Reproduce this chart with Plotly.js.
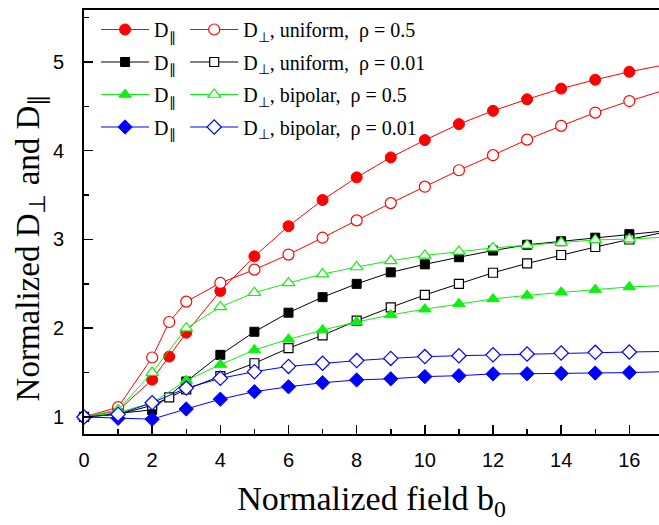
<!DOCTYPE html>
<html>
<head>
<meta charset="utf-8">
<script src="https://cdn.plot.ly/plotly-3.0.1.min.js"></script>
<style>html,body{margin:0;padding:0;background:#fff;}#chart{width:659px;height:525px;}</style>
</head>
<body>
<div id="chart"></div>
<script>
// Normalized field b0
const b0 = [0,1,2,3,4,5,6,7,8,9,10,11,12,13,14,15,16,17];
const b0Fine = [0,1,2,2.5,3,4,5,6,7,8,9,10,11,12,13,14,15,16,17];

// uniform, rho = 0.5
const parUniform05 = [1.00,1.07,1.42,1.68,1.95,2.42,2.81,3.15,3.445,3.70,3.925,4.12,4.30,4.45,4.58,4.70,4.80,4.89,4.965];
const perpUniform05 = [1.00,1.11,1.67,2.07,2.30,2.51,2.66,2.83,3.02,3.215,3.41,3.595,3.78,3.95,4.125,4.28,4.43,4.56,4.68];
// uniform, rho = 0.01
const parUniform001 = [1.00,1.04,1.08,1.40,1.70,1.96,2.175,2.35,2.50,2.63,2.72,2.80,2.875,2.94,2.98,3.02,3.06,3.095];
const perpUniform001 = [1.00,1.03,1.13,1.22,1.31,1.46,1.605,1.775,1.92,2.085,2.235,2.375,2.50,2.625,2.73,2.825,2.915,3.00,3.08];
// bipolar, rho = 0.5
const parBipolar05 = [1.00,1.05,1.16,1.41,1.59,1.755,1.875,1.98,2.07,2.15,2.215,2.275,2.33,2.37,2.405,2.435,2.465,2.48];
const perpBipolar05 = [1.00,1.08,1.50,2.00,2.24,2.40,2.51,2.61,2.69,2.76,2.82,2.865,2.905,2.935,2.965,2.995,3.005,3.025];
// bipolar, rho = 0.01
const parBipolar001 = [1.00,0.985,0.975,1.09,1.20,1.285,1.34,1.386,1.417,1.43,1.455,1.465,1.485,1.487,1.49,1.495,1.50,1.51];
const perpBipolar001 = [1.00,1.03,1.16,1.325,1.435,1.51,1.57,1.605,1.635,1.66,1.68,1.69,1.70,1.71,1.72,1.728,1.732,1.738];

const xTickVals = [0,2,4,6,8,10,12,14,16];
const yTickVals = [1,2,3,4,5];

const labelPar = "D<sub>\u2225</sub>";
const labelPerpU05 = "D<sub>\u22a5</sub>, uniform,\u00a0 \u03c1 = 0.5";
const labelPerpU001 = "D<sub>\u22a5</sub>, uniform,\u00a0 \u03c1 = 0.01";
const labelPerpB05 = "D<sub>\u22a5</sub>, bipolar,\u00a0 \u03c1 = 0.5";
const labelPerpB001 = "D<sub>\u22a5</sub>, bipolar,\u00a0 \u03c1 = 0.01";
const yTitle = "Normalized D<sub>\u22a5</sub> and D<sub>\u2225</sub>";
const xTitle = "Normalized field b<sub>0</sub>";

function filled(x, y, color, symbol, size, grp) {
  return {x: x, y: y, type: 'scatter', mode: 'lines+markers', name: labelPar,
    legend: 'legend', legendgroup: grp, cliponaxis: false,
    line: {color: color, width: 1},
    marker: {symbol: symbol, size: size, color: color, line: {color: color, width: 1}}};
}
function open(x, y, color, symbol, size, name, grp) {
  return {x: x, y: y, type: 'scatter', mode: 'lines+markers', name: name,
    legend: 'legend2', legendgroup: grp, cliponaxis: false,
    line: {color: color, width: 1},
    marker: {symbol: symbol, size: size, color: '#ffffff', line: {color: color, width: 1.2}}};
}

const RED = '#ff0000', BLACK = '#000000', GREEN = '#11ee11', BLUE = '#0000ff';

const data = [
  filled(b0Fine, parUniform05, RED, 'circle', 11, 'a1'),
  open(b0Fine, perpUniform05, RED, 'circle', 11, labelPerpU05, 'b1'),
  filled(b0, parUniform001, BLACK, 'square', 9, 'a2'),
  open(b0Fine, perpUniform001, BLACK, 'square', 9, labelPerpU001, 'b2'),
  filled(b0, parBipolar05, GREEN, 'triangle-up', 11, 'a3'),
  open(b0, perpBipolar05, GREEN, 'triangle-up', 11, labelPerpB05, 'b3'),
  filled(b0, parBipolar001, BLUE, 'diamond', 11, 'a4'),
  open(b0, perpBipolar001, BLUE, 'diamond', 11, labelPerpB001, 'b4')
];

const legendCommon = {
  traceorder: 'grouped', tracegroupgap: 3.5, bgcolor: 'rgba(0,0,0,0)', borderwidth: 0,
  font: {family: 'Liberation Serif, Times New Roman, serif', size: 20, color: '#000'},
  itemwidth: 48, yanchor: 'top', xanchor: 'left', y: 1.0
};

const layout = {
  width: 659, height: 525,
  margin: {l: 84, r: 0, t: 10, b: 91},
  paper_bgcolor: '#ffffff', plot_bgcolor: '#ffffff',
  showlegend: true,
  legend: Object.assign({}, legendCommon, {x: 0.021}),
  legend2: Object.assign({}, legendCommon, {x: 0.176}),
  xaxis: {
    range: [0, 16.87], tickvals: xTickVals, ticks: 'inside', ticklen: 9, tickwidth: 1.5,
    tickcolor: '#000', showline: true, linecolor: '#000', linewidth: 2, mirror: true,
    showgrid: false, zeroline: false, ticklabelstandoff: 7,
    minor: {dtick: 1, ticks: 'inside', ticklen: 5, tickwidth: 1.5, tickcolor: '#000', showgrid: false},
    tickfont: {family: 'Liberation Sans, Arial, sans-serif', size: 20, color: '#000'},
    title: {text: xTitle, standoff: 16,
      font: {family: 'Liberation Serif, Times New Roman, serif', size: 34, color: '#000'}},
    automargin: false
  },
  yaxis: {
    range: [0.808, 5.586], tickvals: yTickVals, ticks: 'inside', ticklen: 9, tickwidth: 1.5,
    tickcolor: '#000', showline: true, linecolor: '#000', linewidth: 2, mirror: false,
    showgrid: false, zeroline: false, ticklabelstandoff: 14,
    minor: {dtick: 0.5, ticks: 'inside', ticklen: 5, tickwidth: 1.5, tickcolor: '#000', showgrid: false},
    tickfont: {family: 'Liberation Sans, Arial, sans-serif', size: 20, color: '#000'},
    automargin: false
  },
  annotations: [{
    text: yTitle, textangle: -90, showarrow: false,
    xref: 'paper', yref: 'paper', x: -0.094, y: 0.44, xanchor: 'center', yanchor: 'middle',
    font: {family: 'Liberation Serif, Times New Roman, serif', size: 33, color: '#000'}
  }]
};

Plotly.newPlot('chart', data, layout, {displayModeBar: false, staticPlot: true});
</script>
</body>
</html>
